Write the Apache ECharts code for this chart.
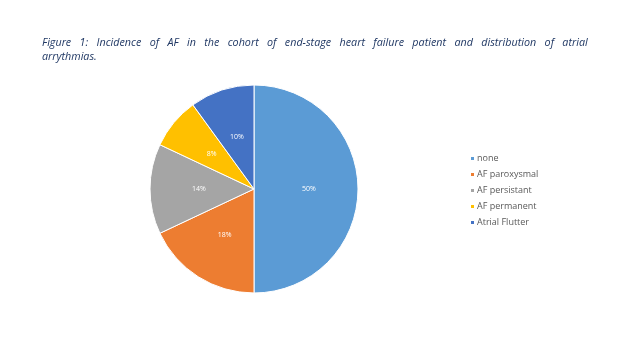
<!DOCTYPE html>
<html><head><meta charset="utf-8">
<script src="https://cdn.jsdelivr.net/npm/echarts@6/dist/echarts.min.js"></script>
<style>html,body{margin:0;padding:0;background:#fff}#c{width:640px;height:360px}</style>
</head><body><div id="c"></div>
<script>
var categories = ['none', 'AF paroxysmal', 'AF persistant', 'AF permanent', 'Atrial Flutter'];
var values = [50, 18, 14, 8, 10];
var colors = ['#5B9BD5', '#ED7D31', '#A5A5A5', '#FFC000', '#4472C4'];
var titleLine1 = 'Figure 1: Incidence of AF in the cohort of end-stage heart failure patient and distribution of atrial';
var titleLine2 = 'arrythmias.';

// widen word gaps to imitate the justified first line
var justified1 = titleLine1.split(' ').join('   ');

var chart = echarts.init(document.getElementById('c'), null, {renderer: 'canvas'});
var data = categories.map(function (c, i) { return {name: c, value: values[i]}; });
chart.setOption({
  animation: false,
  color: colors,
  title: {
    text: justified1 + '\n' + titleLine2,
    left: 42, top: 36, padding: 0,
    textStyle: {fontFamily: 'Open Sans', fontStyle: 'italic', fontWeight: 'normal', fontSize: 10.75, color: '#203864', lineHeight: 14}
  },
  legend: {
    orient: 'vertical', left: 469, top: 153, padding: 0,
    itemWidth: 5, itemHeight: 5, itemGap: 5,
    icon: 'rect',
    textStyle: {fontFamily: 'Open Sans', fontSize: 9, lineHeight: 11, color: '#595959', padding: [0, 0, 0, -3]},
    data: categories
  },
  series: [{
    type: 'pie',
    center: [254, 189],
    radius: 104,
    startAngle: 90,
    clockwise: true,
    data: data,
    itemStyle: {borderColor: '#fff', borderWidth: 1},
    label: {position: 'inside', formatter: '{d}%', color: '#fff', fontSize: 7, fontFamily: 'Open Sans'},
    labelLine: {show: false}
  }]
});
</script></body></html>
